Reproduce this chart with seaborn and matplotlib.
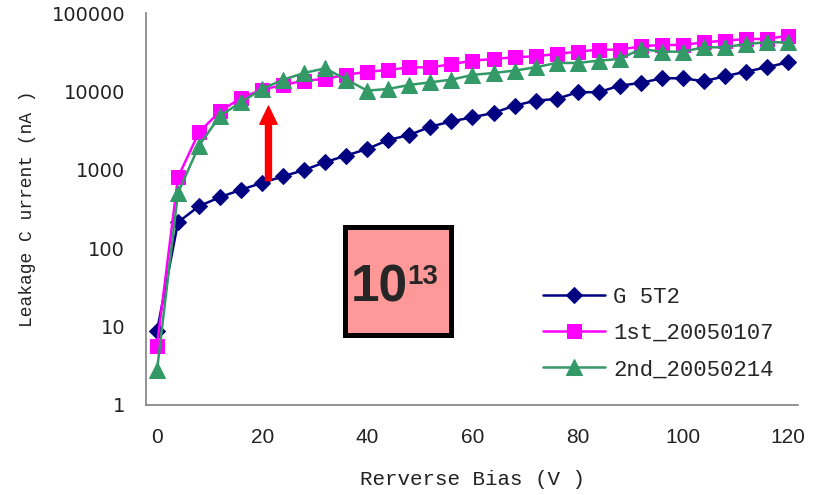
import pandas as pd
import matplotlib.pyplot as plt
import matplotlib.patches as mpatches
import seaborn as sns

# reverse bias (V)
bias = [0, 4, 8, 12, 16, 20, 24, 28, 32, 36, 40, 44, 48, 52, 56, 60,
        64, 68, 72, 76, 80, 84, 88, 92, 96, 100, 104, 108, 112, 116, 120]

# leakage current (nA)
g5t2 = [8.7, 215, 345, 450, 560, 685, 830, 1000, 1260, 1530, 1860, 2420,
        2800, 3580, 4180, 4720, 5360, 6640, 7690, 8090, 9860, 9860, 11970,
        12950, 14870, 14870, 13620, 15780, 18070, 20560, 23820]
first_20050107 = [5.7, 810, 3040, 5640, 8330, 10640, 12210, 13860, 14560,
                  16500, 18000, 19000, 20500, 20500, 22500, 24950, 26240,
                  27580, 28390, 30390, 32530, 34500, 34500, 38110, 39610,
                  39610, 42870, 44980, 47230, 47230, 52080]
second_20050214 = [2.74, 510, 2050, 4950, 7340, 10860, 14280, 17380, 19950,
                   14280, 10330, 10860, 12210, 13220, 14280, 16400, 17380,
                   18610, 20560, 23330, 23330, 24950, 26240, 35210, 32530,
                   32530, 36990, 36990, 40790, 42870, 42870]

series_names = ['G 5T2', '1st_20050107', '2nd_20050214']
series_values = [g5t2, first_20050107, second_20050214]
colors = ['#000080', '#FF00FF', '#339966']
markers = ['D', 's', '^']
marker_sizes = [8, 9.5, 11]

yticks = [1, 10, 100, 1000, 10000, 100000]
xticks = [0, 20, 40, 60, 80, 100, 120]

# arrow marking the jump after irradiation
arrow_x = 21.2
arrow_from = 732
arrow_to = 6530

sns.set_style('white')
plt.rcParams['font.family'] = ['DejaVu Sans']

fig = plt.figure(figsize=(8.22, 4.95), dpi=100)
ax = fig.add_axes([146 / 822, 1 - 404.7 / 495, (798 - 146) / 822, (404.7 - 13.5) / 495])

for name, vals, c, m, ms in zip(series_names, series_values, colors, markers, marker_sizes):
    df = pd.DataFrame({'bias': bias, 'current': vals})
    sns.lineplot(data=df, x='bias', y='current', ax=ax, color=c, marker=m,
                 markersize=ms, markeredgecolor=c, linewidth=1.8, label=name)

ax.set_yscale('log')
ax.set_ylim(1, 100000)
ax.set_xlim(-2.09, 121.9)
ax.set_yticks(yticks)
ax.set_yticklabels([str(v) for v in yticks], fontsize=14, color='#222222')
ax.minorticks_off()
ax.set_xticks(xticks)
ax.set_xticklabels([str(v) for v in xticks], fontsize=15, family='Liberation Sans',
                   color='#222222')
ax.tick_params(axis='y', length=0, pad=15)
ax.tick_params(axis='x', length=0, pad=17)

for side in ['top', 'right']:
    ax.spines[side].set_visible(False)
for side in ['left', 'bottom']:
    ax.spines[side].set_color('#808080')
    ax.spines[side].set_linewidth(1.2)

ax.set_xlabel('Rerverse Bias (V )', family='Liberation Mono', fontsize=15,
              color='#222222', labelpad=16)
ax.set_ylabel('Leakage C urrent (nA )', family='Liberation Mono', fontsize=13,
              color='#222222', labelpad=11)

ax.annotate('', xy=(arrow_x, arrow_to), xytext=(arrow_x, arrow_from),
            arrowprops=dict(color='red', width=4.3, headwidth=12.5,
                            headlength=13, shrink=0), zorder=5)

# fluence box
box = mpatches.Rectangle((344.5 / 822, 1 - 334.5 / 495), 106 / 822, 107 / 495,
                         transform=fig.transFigure, facecolor='#FF9999',
                         edgecolor='black', linewidth=3.6, zorder=4)
fig.patches.append(box)
fig.text(351 / 822, 1 - 302 / 495, '10', family='Liberation Sans', weight='bold',
         fontsize=37, ha='left', va='baseline', zorder=6)
fig.text(407 / 822, 1 - 284 / 495, '13', family='Liberation Sans', weight='bold',
         fontsize=20, ha='left', va='baseline', zorder=6)

ax.legend(loc='upper left', bbox_to_anchor=(543 / 822, 1 - 287 / 495),
          bbox_transform=fig.transFigure, frameon=False, borderpad=0,
          borderaxespad=0, handlelength=2.8, handletextpad=0.35,
          labelspacing=0.68, prop={'family': 'Liberation Mono', 'size': 16})

fig.savefig('out.png', dpi=100)
